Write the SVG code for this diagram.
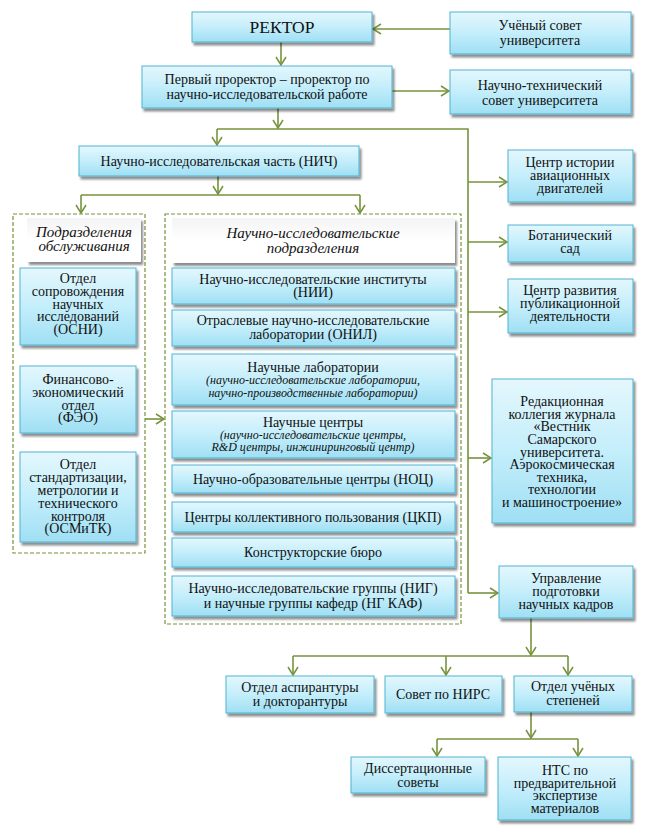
<svg xmlns="http://www.w3.org/2000/svg" width="647" height="832" viewBox="0 0 647 832">
<defs>
<linearGradient id="blue" x1="0" y1="0" x2="0" y2="1">
<stop offset="0" stop-color="#e4f7fd"/>
<stop offset="0.5" stop-color="#c4eefb"/>
<stop offset="1" stop-color="#9fdff4"/>
</linearGradient>
<linearGradient id="white" x1="0" y1="0" x2="0" y2="1">
<stop offset="0" stop-color="#f4f4f4"/>
<stop offset="0.5" stop-color="#ffffff"/>
<stop offset="1" stop-color="#ffffff"/>
</linearGradient>
<filter id="sh" x="-10%" y="-10%" width="130%" height="140%">
<feGaussianBlur in="SourceAlpha" stdDeviation="1.2"/>
<feOffset dx="2" dy="2.5" result="b"/>
<feComponentTransfer><feFuncA type="linear" slope="0.45"/></feComponentTransfer>
<feMerge><feMergeNode/><feMergeNode in="SourceGraphic"/></feMerge>
</filter>
<marker id="arr" markerUnits="userSpaceOnUse" markerWidth="14" markerHeight="14" refX="9" refY="6" orient="auto">
<path d="M1,1 L9,6 L1,11" fill="none" stroke="#77933c" stroke-width="1.5"/>
</marker>
</defs>
<style>
.box{fill:url(#blue);stroke:#4fb3d1;stroke-width:1;filter:url(#sh)}
.hdr{fill:url(#white);stroke:none;filter:url(#sh)}
.dash{fill:none;stroke:#77933c;stroke-width:1.2;stroke-dasharray:4 2}
.c{fill:none;stroke:#77933c;stroke-width:1.6}
.a{marker-end:url(#arr)}
text{font-family:"Times New Roman",Tinos,"Noto Serif","FreeSerif","Liberation Serif","DejaVu Serif",serif;font-size:14px;fill:#111;text-anchor:middle}
.big{font-size:17.5px}
.it{font-style:italic;font-size:15px}
.sm{font-style:italic;font-size:12px}
</style>
<rect width="647" height="832" fill="#ffffff"/>

<g id="connectors">
<path class="c a" d="M450,29 H373"/>
<path class="c a" d="M281,42 V65"/>
<path class="c a" d="M392,91 H449"/>
<path class="c a" d="M278,108 V128"/>
<path class="c" d="M217,129 H468 V593"/>
<path class="c a" d="M217,129 V145"/>
<path class="c a" d="M468,182 H507"/>
<path class="c a" d="M468,242 H507"/>
<path class="c a" d="M468,312 H507"/>
<path class="c a" d="M468,458 H491"/>
<path class="c a" d="M468,593 H498"/>
<path class="c a" d="M218,176 V194"/>
<path class="c" d="M81,195 H360"/>
<path class="c a" d="M81,195 V213"/>
<path class="c a" d="M360,195 V213"/>
<path class="c a" d="M145,419 H164"/>
<path class="c a" d="M531,618 V655"/>
<path class="c" d="M293,656 H568"/>
<path class="c a" d="M293,656 V675"/>
<path class="c a" d="M446,656 V675"/>
<path class="c a" d="M568,656 V675"/>
<path class="c a" d="M531,712 V738"/>
<path class="c" d="M437,739 H578"/>
<path class="c a" d="M437,739 V756"/>
<path class="c a" d="M578,739 V756"/>
</g>

<g id="group-service"><rect class="dash" x="13" y="214" width="132" height="339"/></g>
<g id="group-research"><rect class="dash" x="165" y="214" width="296" height="410"/></g>

<g id="rector"><rect class="box" x="192" y="12" width="180" height="30"/><text class="big" x="282" y="33">РЕКТОР</text></g>
<g id="academic-council"><rect class="box" x="450" y="12" width="181" height="42"/><text x="540" y="30">Учёный совет</text><text x="540" y="45">университета</text></g>
<g id="first-prorector"><rect class="box" x="142" y="66" width="250" height="42"/><text x="267" y="84">Первый проректор – проректор по</text><text x="267" y="99">научно-исследовательской работе</text></g>
<g id="sci-tech-council"><rect class="box" x="450" y="70" width="181" height="44"/><text x="540" y="90">Научно-технический</text><text x="540" y="105">совет университета</text></g>
<g id="nich"><rect class="box" x="79" y="146" width="280" height="30"/><text x="219" y="166">Научно-исследовательская часть (НИЧ)</text></g>

<g id="history-center"><rect class="box" x="508" y="150" width="125" height="52"/><text x="570" y="167">Центр истории</text><text x="570" y="180">авиационных</text><text x="570" y="193">двигателей</text></g>
<g id="botanical"><rect class="box" x="508" y="225" width="125" height="37"/><text x="570" y="240">Ботанический</text><text x="570" y="253">сад</text></g>
<g id="publication-center"><rect class="box" x="508" y="279" width="125" height="54"/><text x="570" y="295">Центр развития</text><text x="570" y="308">публикационной</text><text x="570" y="321">деятельности</text></g>
<g id="editorial"><rect class="box" x="492" y="379" width="141" height="144"/>
<text x="562" y="406">Редакционная</text><text x="562" y="419">коллегия журнала</text><text x="562" y="431">«Вестник</text><text x="562" y="444">Самарского</text><text x="562" y="457">университета.</text><text x="562" y="469">Аэрокосмическая</text><text x="562" y="482">техника,</text><text x="562" y="494">технологии</text><text x="562" y="507">и машиностроение»</text></g>
<g id="personnel"><rect class="box" x="499" y="566" width="134" height="52"/><text x="566" y="583">Управление</text><text x="566" y="596">подготовки</text><text x="566" y="609">научных кадров</text></g>

<g id="service-header"><rect class="hdr" x="27" y="218" width="114" height="44"/><text class="it" x="84" y="237">Подразделения</text><text class="it" x="84" y="251">обслуживания</text></g>
<g id="osni"><rect class="box" x="20" y="268" width="116" height="77"/><text x="78" y="283">Отдел</text><text x="78" y="296">сопровождения</text><text x="78" y="309">научных</text><text x="78" y="321">исследований</text><text x="78" y="334">(ОСНИ)</text></g>
<g id="feo"><rect class="box" x="20" y="366" width="116" height="67"/><text x="78" y="384">Финансово-</text><text x="78" y="397">экономический</text><text x="78" y="410">отдел</text><text x="78" y="422">(ФЭО)</text></g>
<g id="osmitk"><rect class="box" x="20" y="452" width="116" height="90"/><text x="78" y="469">Отдел</text><text x="78" y="482">стандартизации,</text><text x="78" y="495">метрологии и</text><text x="78" y="508">технического</text><text x="78" y="521">контроля</text><text x="78" y="533">(ОСМиТК)</text></g>

<g id="research-header"><rect class="hdr" x="172" y="218" width="283" height="45"/><text class="it" x="313" y="238">Научно-исследовательские</text><text class="it" x="313" y="253">подразделения</text></g>
<g id="nii"><rect class="box" x="172" y="268" width="283" height="36"/><text x="313" y="284">Научно-исследовательские институты</text><text x="313" y="297">(НИИ)</text></g>
<g id="onil"><rect class="box" x="172" y="310" width="283" height="36"/><text x="313" y="325">Отраслевые научно-исследовательские</text><text x="313" y="339">лаборатории (ОНИЛ)</text></g>
<g id="labs"><rect class="box" x="172" y="354" width="283" height="51"/><text x="313" y="372">Научные лаборатории</text><text class="sm" x="313" y="384">(научно-исследовательские лаборатории,</text><text class="sm" x="313" y="397">научно-производственные лаборатории)</text></g>
<g id="centers"><rect class="box" x="172" y="411" width="283" height="47"/><text x="313" y="427">Научные центры</text><text class="sm" x="313" y="439">(научно-исследовательские центры,</text><text class="sm" x="313" y="451">R&amp;D центры, инжиниринговый центр)</text></g>
<g id="noc"><rect class="box" x="172" y="465" width="283" height="28"/><text x="313" y="484">Научно-образовательные центры (НОЦ)</text></g>
<g id="ckp"><rect class="box" x="172" y="502" width="283" height="30"/><text x="313" y="522">Центры коллективного пользования (ЦКП)</text></g>
<g id="kb"><rect class="box" x="172" y="538" width="283" height="29"/><text x="313" y="557">Конструкторские бюро</text></g>
<g id="nig"><rect class="box" x="172" y="576" width="283" height="40"/><text x="313" y="593">Научно-исследовательские группы (НИГ)</text><text x="313" y="608">и научные группы кафедр (НГ КАФ)</text></g>

<g id="aspirantura"><rect class="box" x="226" y="676" width="148" height="37"/><text x="300" y="692">Отдел аспирантуры</text><text x="300" y="706">и докторантуры</text></g>
<g id="nirs"><rect class="box" x="385" y="676" width="117" height="37"/><text x="443" y="699">Совет по НИРС</text></g>
<g id="degrees"><rect class="box" x="514" y="676" width="118" height="36"/><text x="573" y="691">Отдел учёных</text><text x="573" y="705">степеней</text></g>
<g id="dissertation"><rect class="box" x="351" y="757" width="134" height="36"/><text x="418" y="773">Диссертационные</text><text x="418" y="787">советы</text></g>
<g id="nts-expert"><rect class="box" x="498" y="757" width="133" height="63"/><text x="565" y="775">НТС по</text><text x="565" y="788">предварительной</text><text x="565" y="800">экспертизе</text><text x="565" y="813">материалов</text></g>
</svg>
